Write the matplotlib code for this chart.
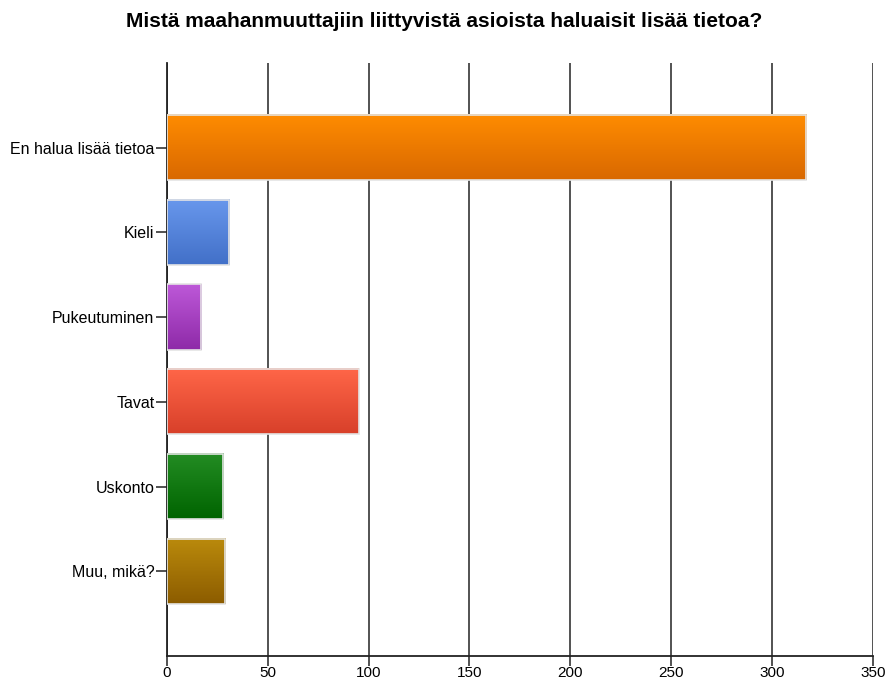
import matplotlib.pyplot as plt
import numpy as np
from matplotlib.colors import LinearSegmentedColormap

plt.rcParams['font.family'] = ['Liberation Sans', 'DejaVu Sans']

categories = ['En halua lisää tietoa', 'Kieli', 'Pukeutuminen', 'Tavat', 'Uskonto', 'Muu, mikä?']
values = [317, 31, 17, 95, 28, 29]
top_colors = ['#ff8c00', '#6897ec', '#bd58d8', '#ff6648', '#238c23', '#ba8a0c']
bottom_colors = ['#d96800', '#4270c8', '#8e2aa8', '#d8402a', '#006400', '#8c5c00']
ticks = [0, 50, 100, 150, 200, 250, 300, 350]

fig = plt.figure(figsize=(8.88, 6.82), dpi=100)
ax = fig.add_axes([0.188, 0.038, 0.795, 0.870])

ypos = np.arange(len(categories))
h = 0.77
grad = np.linspace(0, 1, 64).reshape(-1, 1)

for i, v in enumerate(values):
    cmap = LinearSegmentedColormap.from_list('g%d' % i, [top_colors[i], bottom_colors[i]])
    # gradient goes top -> bottom; y axis is inverted
    ax.imshow(grad, cmap=cmap, aspect='auto', origin='upper',
              extent=(0, v, ypos[i] + h / 2, ypos[i] - h / 2), zorder=3)
    ax.barh(ypos[i], v, height=h, fill=False, edgecolor='#e4e4e4', linewidth=1.2, zorder=4)

ax.set_xlim(0, 350)
ax.set_ylim(len(categories), -1)
ax.set_xticks(ticks)
ax.set_yticks(ypos)
ax.set_yticklabels(categories, fontsize=11.5)
ax.tick_params(axis='x', labelsize=11, length=7, width=1.2, color='#333333', pad=0)
ax.tick_params(axis='y', length=8, width=1.2, color='#333333', pad=1)
ax.grid(axis='x', color='#444444', linewidth=1.3, zorder=1)
ax.set_axisbelow(True)

ax.spines['right'].set_visible(False)
ax.spines['top'].set_visible(False)
ax.spines['left'].set_linewidth(1.3)
ax.spines['bottom'].set_linewidth(1.3)
ax.spines['left'].set_color('#222222')
ax.spines['bottom'].set_color('#222222')

fig.suptitle('Mistä maahanmuuttajiin liittyvistä asioista haluaisit lisää tietoa?',
             fontsize=15, fontweight='bold', x=0.5, y=0.982)

fig.savefig('out.png', dpi=100)
